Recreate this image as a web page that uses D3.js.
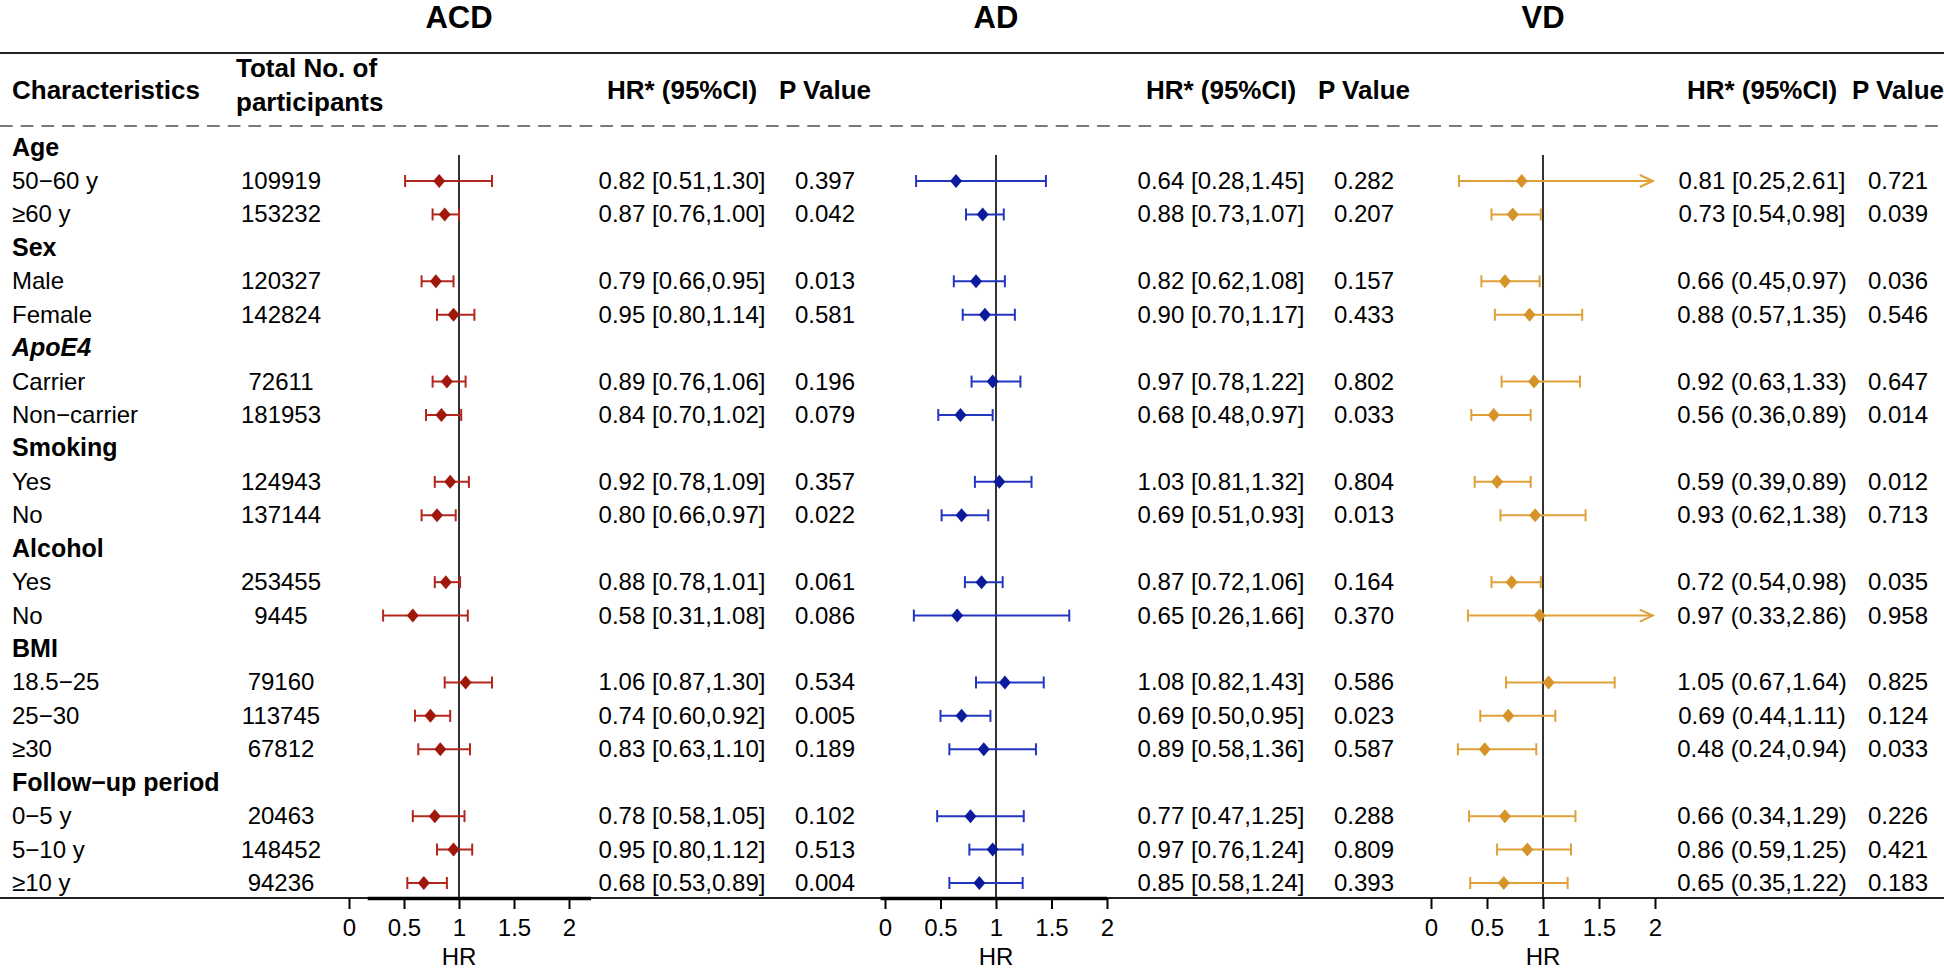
<!DOCTYPE html>
<html lang="en">

<head>
    <meta charset="UTF-8">
    <title>Subgroup forest plot</title>
    <style>
        body { margin: 0; background: #fff; }
        svg { display: block; font-family: "Liberation Sans", Arial, sans-serif; }
    </style>
</head>

<body>
    <main></main>

    <script src="https://d3js.org/d3.v7.min.js"></script>
    <script>
        // row labels (group rows are bold)
        var rowLabels = ["Age", "50\u221260 y", "\u226560 y", "Sex", "Male", "Female", "ApoE4", "Carrier", "Non\u2212carrier",
            "Smoking", "Yes", "No", "Alcohol", "Yes", "No", "BMI", "18.5\u221225", "25\u221230", "\u226530",
            "Follow\u2212up period", "0\u22125 y", "5\u221210 y", "\u226510 y"];
        var isGroup = [1, 0, 0, 1, 0, 0, 1, 0, 0, 1, 0, 0, 1, 0, 0, 1, 0, 0, 0, 1, 0, 0, 0];
        var totals = [109919, 153232, 120327, 142824, 72611, 181953, 124943, 137144, 253455, 9445, 79160, 113745, 67812, 20463, 148452, 94236];

        var acdHR = [0.82, 0.87, 0.79, 0.95, 0.89, 0.84, 0.92, 0.80, 0.88, 0.58, 1.06, 0.74, 0.83, 0.78, 0.95, 0.68];
        var acdLo = [0.51, 0.76, 0.66, 0.80, 0.76, 0.70, 0.78, 0.66, 0.78, 0.31, 0.87, 0.60, 0.63, 0.58, 0.80, 0.53];
        var acdHi = [1.30, 1.00, 0.95, 1.14, 1.06, 1.02, 1.09, 0.97, 1.01, 1.08, 1.30, 0.92, 1.10, 1.05, 1.12, 0.89];
        var acdP = [0.397, 0.042, 0.013, 0.581, 0.196, 0.079, 0.357, 0.022, 0.061, 0.086, 0.534, 0.005, 0.189, 0.102, 0.513, 0.004];

        var adHR = [0.64, 0.88, 0.82, 0.90, 0.97, 0.68, 1.03, 0.69, 0.87, 0.65, 1.08, 0.69, 0.89, 0.77, 0.97, 0.85];
        var adLo = [0.28, 0.73, 0.62, 0.70, 0.78, 0.48, 0.81, 0.51, 0.72, 0.26, 0.82, 0.50, 0.58, 0.47, 0.76, 0.58];
        var adHi = [1.45, 1.07, 1.08, 1.17, 1.22, 0.97, 1.32, 0.93, 1.06, 1.66, 1.43, 0.95, 1.36, 1.25, 1.24, 1.24];
        var adP = [0.282, 0.207, 0.157, 0.433, 0.802, 0.033, 0.804, 0.013, 0.164, 0.370, 0.586, 0.023, 0.587, 0.288, 0.809, 0.393];

        var vdHR = [0.81, 0.73, 0.66, 0.88, 0.92, 0.56, 0.59, 0.93, 0.72, 0.97, 1.05, 0.69, 0.48, 0.66, 0.86, 0.65];
        var vdLo = [0.25, 0.54, 0.45, 0.57, 0.63, 0.36, 0.39, 0.62, 0.54, 0.33, 0.67, 0.44, 0.24, 0.34, 0.59, 0.35];
        var vdHi = [2.61, 0.98, 0.97, 1.35, 1.33, 0.89, 0.89, 1.38, 0.98, 2.86, 1.64, 1.11, 0.94, 1.29, 1.25, 1.22];
        var vdP = [0.721, 0.039, 0.036, 0.546, 0.647, 0.014, 0.012, 0.713, 0.035, 0.958, 0.825, 0.124, 0.033, 0.226, 0.421, 0.183];
        // VD column switches from [ ] to ( ) after the Age rows
        var vdRound = [0, 0, 1, 1, 1, 1, 1, 1, 1, 1, 1, 1, 1, 1, 1, 1];

        var xTicks = [0, 0.5, 1, 1.5, 2];

        var panels = [
            { title: "ACD", hr: acdHR, lo: acdLo, hi: acdHi, p: acdP, round: null, x0: 349, x2: 569, hrC: 682, pC: 825, line: "#b3261e", dot: "#a0170b", axis: [0.17, 2.2] },
            { title: "AD", hr: adHR, lo: adLo, hi: adHi, p: adP, round: null, x0: 885, x2: 1107, hrC: 1221, pC: 1364, line: "#2236c0", dot: "#0c1b9c", axis: [-0.04, 2] },
            { title: "VD", hr: vdHR, lo: vdLo, hi: vdHi, p: vdP, round: vdRound, x0: 1431, x2: 1655, hrC: 1762, pC: 1898, line: "#e0a038", dot: "#d69327", axis: null }
        ];

        var width = 1944, height = 971;

        var svg = d3.select("main").append("svg")
            .attr("width", width)
            .attr("height", height);

        var y = d3.scaleLinear().domain([0, rowLabels.length - 1]).range([147.6, 883]);
        var yTop = 155, yBottom = 898;

        // index of each sub row in the full row list
        var subRows = [];
        rowLabels.forEach(function (d, i) { if (!isGroup[i]) subRows.push(i); });

        // rules
        svg.append("line").attr("x1", 0).attr("x2", width).attr("y1", 53).attr("y2", 53)
            .attr("stroke", "#222").attr("stroke-width", 2);
        svg.append("line").attr("x1", 0).attr("x2", width).attr("y1", 126).attr("y2", 126)
            .attr("stroke", "#7a7a7a").attr("stroke-width", 2).attr("stroke-dasharray", "12.7,8");
        svg.append("line").attr("x1", 0).attr("x2", width).attr("y1", yBottom).attr("y2", yBottom)
            .attr("stroke", "#222").attr("stroke-width", 2);

        // header
        var head = svg.append("g").attr("font-weight", "bold").attr("font-size", 26).attr("fill", "#000");
        head.append("text").attr("x", 12).attr("y", 99).text("Characteristics");
        head.append("text").attr("x", 236).attr("y", 77).text("Total No. of");
        head.append("text").attr("x", 236).attr("y", 111).text("participants");

        // left text columns
        svg.append("g").selectAll("text")
            .data(rowLabels)
            .enter().append("text")
            .attr("x", 12)
            .attr("y", function (d, i) { return y(i) + 8; })
            .attr("font-size", function (d, i) { return isGroup[i] ? 25 : 24; })
            .attr("font-weight", function (d, i) { return isGroup[i] ? "bold" : "normal"; })
            .attr("font-style", function (d) { return d == "ApoE4" ? "italic" : "normal"; })
            .text(function (d) { return d; });

        svg.append("g").selectAll("text")
            .data(totals)
            .enter().append("text")
            .attr("x", 281)
            .attr("y", function (d, i) { return y(subRows[i]) + 8; })
            .attr("text-anchor", "middle")
            .attr("font-size", 24)
            .text(function (d) { return d; });

        panels.forEach(function (pn) {
            var x = d3.scaleLinear().domain([0, 2]).range([pn.x0, pn.x2]);
            var g = svg.append("g");

            g.append("text")
                .attr("x", x(1)).attr("y", 28)
                .attr("text-anchor", "middle")
                .attr("font-size", 31).attr("font-weight", "bold")
                .text(pn.title);

            g.append("text").attr("x", pn.hrC).attr("y", 99).attr("text-anchor", "middle")
                .attr("font-size", 26).attr("font-weight", "bold").text("HR* (95%CI)");
            g.append("text").attr("x", pn.pC).attr("y", 99).attr("text-anchor", "middle")
                .attr("font-size", 26).attr("font-weight", "bold").text("P Value");

            // axis line segment and ticks below the bottom rule
            if (pn.axis) {
                g.append("line").attr("x1", x(pn.axis[0])).attr("x2", x(pn.axis[1]))
                    .attr("y1", yBottom + 0.5).attr("y2", yBottom + 0.5)
                    .attr("stroke", "#000").attr("stroke-width", 3.5);
            }
            var ax = g.append("g")
                .attr("transform", "translate(0," + yBottom + ")")
                .call(d3.axisBottom(x).tickValues(xTicks).tickSize(11).tickPadding(10)
                    .tickFormat(function (d) { return d; }));
            ax.select(".domain").remove();
            ax.selectAll(".tick line").attr("stroke", "#000").attr("stroke-width", 2);
            ax.selectAll(".tick text").attr("font-size", 24).attr("font-family", null).attr("fill", "#000");

            g.append("text").attr("x", x(1)).attr("y", 965).attr("text-anchor", "middle")
                .attr("font-size", 24).text("HR");

            // reference line at HR = 1
            g.append("line").attr("x1", x(1)).attr("x2", x(1)).attr("y1", yTop).attr("y2", yBottom)
                .attr("stroke", "#000").attr("stroke-width", 1.6);

            var rows = pn.hr.map(function (v, i) {
                return { hr: v, lo: pn.lo[i], hi: pn.hi[i], p: pn.p[i], row: subRows[i], round: pn.round ? pn.round[i] : 0 };
            });

            var ci = g.selectAll(".ci").data(rows).enter().append("g").attr("class", "ci")
                .attr("transform", function (d) { return "translate(0," + y(d.row) + ")"; });

            ci.append("line")
                .attr("x1", function (d) { return x(d.lo); })
                .attr("x2", function (d) { return x(Math.min(d.hi, 1.98)); })
                .attr("stroke", pn.line).attr("stroke-width", 2);
            ci.append("line")
                .attr("x1", function (d) { return x(d.lo); }).attr("x2", function (d) { return x(d.lo); })
                .attr("y1", -6).attr("y2", 6)
                .attr("stroke", pn.line).attr("stroke-width", 2);
            ci.append("path")
                .attr("d", function (d) {
                    if (d.hi > 2) {
                        var t = x(1.98);
                        return "M" + (t - 13) + ",-6L" + t + ",0L" + (t - 13) + ",6";
                    }
                    return "M" + x(d.hi) + ",-6V6";
                })
                .attr("fill", "none").attr("stroke", pn.line).attr("stroke-width", 2);
            ci.append("path")
                .attr("d", function (d) {
                    var cx = x(d.hr);
                    return "M" + (cx - 6) + ",0L" + cx + ",-7L" + (cx + 6) + ",0L" + cx + ",7Z";
                })
                .attr("fill", pn.dot);

            ci.append("text")
                .attr("x", pn.hrC).attr("y", 8)
                .attr("text-anchor", "middle").attr("font-size", 24)
                .text(function (d) {
                    var o = d.round ? "(" : "[", c = d.round ? ")" : "]";
                    return d.hr.toFixed(2) + " " + o + d.lo.toFixed(2) + "," + d.hi.toFixed(2) + c;
                });
            ci.append("text")
                .attr("x", pn.pC).attr("y", 8)
                .attr("text-anchor", "middle").attr("font-size", 24)
                .text(function (d) { return d.p.toFixed(3); });
        });
    </script>
</body>

</html>
